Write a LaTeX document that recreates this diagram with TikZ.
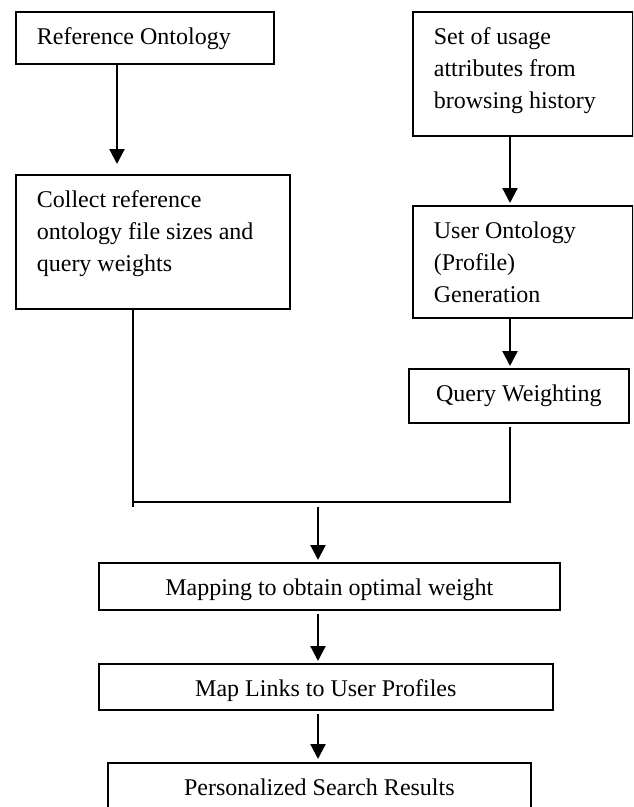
\documentclass[tikz,border=0pt]{standalone}
\usepackage{fontspec}
\setmainfont{Liberation Serif}
\usetikzlibrary{arrows.meta}

% text block set at the top of a box: left aligned or centred
\newcommand{\lefttext}[3]{\parbox[c][#2][t]{#1}{\raggedright\leftskip=21pt\vspace*{10.8pt}\strut #3}}
\newcommand{\midtext}[3]{\parbox[c][#2][t]{#1}{\centering\vspace*{10.8pt}\strut #3}}

\begin{document}
\begin{tikzpicture}[x=1pt,y=-1pt,
  box/.style={draw, line width=1.7pt, inner sep=0pt, anchor=north west,
              font=\fontsize{24}{31.7}\selectfont},
  arr/.style={line width=2.2pt, -{Triangle[length=15pt,width=15pt]}},
  joinline/.style={line width=1.5pt}]

\useasboundingbox (0,0) rectangle (633,807);
\fill[white] (0,0) rectangle (633,807);
\clip (0,0) rectangle (633,807);

% left column
\node[box] (ref)  at (15,11)  {\lefttext{258pt}{52pt}{Reference Ontology}};
\node[box] (coll) at (15,174) {\lefttext{274pt}{134pt}{Collect reference\\ontology file sizes and\\query weights}};

% right column
\node[box] (set)  at (412,11)  {\lefttext{220pt}{124pt}{Set of usage\\attributes from\\browsing history}};
\node[box] (user) at (412,205) {\lefttext{220pt}{112pt}{User Ontology\\(Profile)\\Generation}};
\node[box] (qw)   at (408,368) {\midtext{220pt}{54pt}{Query Weighting}};

% lower chain
\node[box] (map)   at (98,562)  {\midtext{461pt}{47pt}{Mapping to obtain optimal weight}};
\node[box] (links) at (98,663)  {\midtext{454pt}{46pt}{Map Links to User Profiles}};
\node[box] (pers)  at (107,762) {\midtext{423pt}{70pt}{Personalized Search Results}};

% guide columns for the connectors
\coordinate (cl) at (117,0);
\coordinate (cc) at (133,0);
\coordinate (cr) at (510,0);
\coordinate (cm) at (318,0);
\coordinate (jl) at (133,507);
\coordinate (jr) at (510,501);
\coordinate (hl) at (133,502);
\coordinate (hr) at (511,502);
\coordinate (jm) at (318,507);

% arrows
\draw[arr, shorten >=10pt] (ref.south -| cl) -- (coll.north -| cl);
\draw[arr, shorten >=2pt] (set.south -| cr) -- (user.north -| cr);
\draw[arr, shorten >=2pt] (user.south -| cr) -- (qw.north -| cr);

% joining lines
\draw[joinline] (coll.south -| cc) -- (jl);
\draw[joinline, shorten <=3pt] (qw.south -| cr) -- (jr);
\draw[joinline] (hl) -- (hr);

\draw[arr, shorten >=2pt] (jm) -- (map.north -| cm);
\draw[arr, shorten <=3pt, shorten >=2pt] (map.south -| cm) -- (links.north -| cm);
\draw[arr, shorten <=3pt, shorten >=3pt] (links.south -| cm) -- (pers.north -| cm);

\end{tikzpicture}
\end{document}
